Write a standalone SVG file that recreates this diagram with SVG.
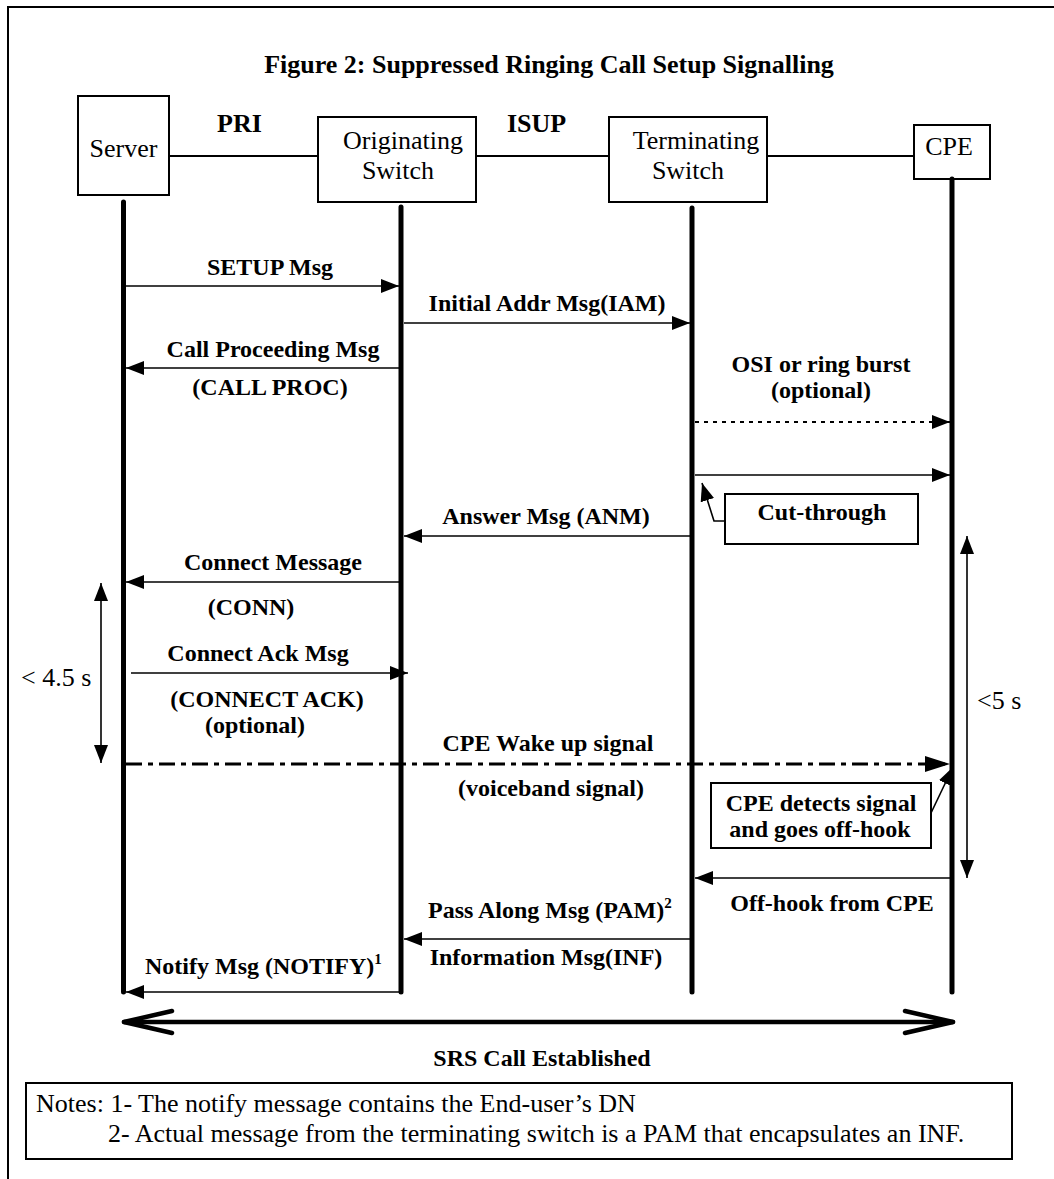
<svg xmlns="http://www.w3.org/2000/svg" width="1054" height="1179" viewBox="0 0 1054 1179">
<style>
  text { font-family: "Liberation Serif", "Times New Roman", serif; fill: #000; }
  .node { fill: #fff; stroke: #000; stroke-width: 2; }
  .reg { font-size: 26px; }
  .b26 { font-size: 26px; font-weight: bold; }
  .lbl { font-size: 24px; font-weight: bold; text-anchor: middle; }
  .lbls { font-size: 24px; font-weight: bold; }
  .sup { font-size: 15px; font-weight: bold; }
  .mid { text-anchor: middle; }
  .life { stroke: #000; stroke-width: 5; stroke-linecap: round; fill: none; }
  .link { stroke: #000; stroke-width: 2; fill: none; }
  .msg { stroke: #000; stroke-width: 1.6; fill: none; marker-end: url(#ah); }
  .dotted { stroke: #000; stroke-width: 2; fill: none; stroke-dasharray: 4 5; marker-end: url(#ah); }
  .dashdot { stroke: #000; stroke-width: 3; fill: none; stroke-dasharray: 16 6 5 6; marker-end: url(#ahb); }
  .timing { stroke: #000; stroke-width: 1.6; fill: none; marker-start: url(#ah); marker-end: url(#ah); }
  .srs { stroke: #000; stroke-width: 4.5; fill: none; stroke-linecap: round; stroke-linejoin: round; }
</style>
<defs>
  <marker id="ah" markerUnits="userSpaceOnUse" markerWidth="18" markerHeight="14" viewBox="0 0 18 14" refX="18" refY="7" orient="auto-start-reverse">
    <path d="M0,0 L18,7 L0,14 z" fill="#000"/>
  </marker>
  <marker id="ahb" markerUnits="userSpaceOnUse" markerWidth="25" markerHeight="16" viewBox="0 0 25 16" refX="25" refY="8" orient="auto">
    <path d="M0,0 L25,8 L0,16 z" fill="#000"/>
  </marker>
  <clipPath id="srsclip"><rect x="0" y="1030" width="1054" height="36"/></clipPath>
</defs>

<rect x="0" y="0" width="1054" height="1179" fill="#fff"/>

<!-- page frame (clipped at right and bottom) -->
<path d="M8,1179 V7 H1054" fill="none" stroke="#000" stroke-width="2"/>

<text class="b26 mid" x="549" y="73">Figure 2: Suppressed Ringing Call Setup Signalling</text>

<g id="links">
  <line class="link" x1="169" y1="156" x2="318" y2="156"/>
  <line class="link" x1="476" y1="156" x2="609" y2="156"/>
  <line class="link" x1="767" y1="156" x2="914" y2="156"/>
  <text class="b26" x="217" y="132">PRI</text>
  <text class="b26" x="507" y="132">ISUP</text>
</g>

<g id="node-server">
  <rect class="node" x="78" y="96" width="91" height="99"/>
  <text class="reg mid" x="123.5" y="157">Server</text>
</g>
<g id="node-originating">
  <rect class="node" x="318" y="117" width="158" height="85"/>
  <text class="reg mid" x="403" y="149">Originating</text>
  <text class="reg mid" x="398" y="179">Switch</text>
</g>
<g id="node-terminating">
  <rect class="node" x="609" y="117" width="158" height="85"/>
  <text class="reg mid" x="696" y="149">Terminating</text>
  <text class="reg mid" x="688" y="179">Switch</text>
</g>
<g id="node-cpe">
  <rect class="node" x="914" y="125" width="76" height="54"/>
  <text class="reg mid" x="949" y="155">CPE</text>
</g>

<g id="lifelines">
  <line class="life" x1="123.5" y1="202" x2="123.5" y2="992"/>
  <line class="life" x1="401" y1="207" x2="401" y2="992"/>
  <line class="life" x1="692" y1="208" x2="692" y2="992"/>
  <line class="life" x1="952" y1="179" x2="952" y2="992"/>
</g>

<g id="connectors">
  <line class="msg" x1="126" y1="286" x2="399" y2="286"/>
  <line class="msg" x1="404" y1="323" x2="690" y2="323"/>
  <line class="msg" x1="399" y1="368" x2="126" y2="368"/>
  <line class="dotted" x1="695" y1="422" x2="950" y2="422"/>
  <line class="msg" x1="695" y1="475" x2="950" y2="475"/>
  <path class="msg" d="M725,521 L714,521 L702,483"/>
  <line class="msg" x1="690" y1="536" x2="404" y2="536"/>
  <line class="msg" x1="399" y1="582" x2="126" y2="582"/>
  <line class="msg" x1="131" y1="673" x2="408" y2="673"/>
  <line class="timing" x1="101" y1="583" x2="101" y2="763"/>
  <line class="dashdot" x1="126" y1="764" x2="950" y2="764"/>
  <path class="msg" d="M931,813 L953,767"/>
  <line class="timing" x1="967" y1="536" x2="967" y2="878"/>
  <line class="msg" x1="950" y1="878" x2="695" y2="878"/>
  <line class="msg" x1="690" y1="939" x2="404" y2="939"/>
  <line class="msg" x1="399" y1="992" x2="126" y2="992"/>
  <path class="srs" d="M124,1022 H953"/>
  <path class="srs" d="M172,1011 L124,1022 L172,1033"/>
  <path class="srs" d="M905,1011 L953,1022 L905,1033"/>
</g>

<g id="labels">
  <text class="lbl" x="270" y="275">SETUP Msg</text>
  <text class="lbl" x="547" y="311">Initial Addr Msg(IAM)</text>
  <text class="lbl" x="273" y="357">Call Proceeding Msg</text>
  <text class="lbl" x="270" y="395">(CALL PROC)</text>
  <text class="lbl" x="821" y="372">OSI or ring burst</text>
  <text class="lbl" x="821" y="398">(optional)</text>
  <text class="lbl" x="546" y="524">Answer Msg (ANM)</text>
  <text class="lbl" x="273" y="570">Connect Message</text>
  <text class="lbl" x="251" y="615">(CONN)</text>
  <text class="lbl" x="258" y="661">Connect Ack Msg</text>
  <text class="lbl" x="267" y="707">(CONNECT ACK)</text>
  <text class="lbl" x="255" y="733">(optional)</text>
  <text class="reg" x="21" y="686">&lt; 4.5 s</text>
  <text class="lbl" x="548" y="751">CPE Wake up signal</text>
  <text class="lbl" x="551" y="796">(voiceband signal)</text>
  <text class="reg" x="977" y="709">&lt;5 s</text>
  <text class="lbl" x="832" y="911">Off-hook from CPE</text>
  <text class="lbls" x="428" y="918">Pass Along Msg (PAM)<tspan class="sup" dy="-10">2</tspan></text>
  <text class="lbl" x="546" y="965">Information Msg(INF)</text>
  <text class="lbls" x="145" y="974">Notify Msg (NOTIFY)<tspan class="sup" dy="-10">1</tspan></text>
  <text class="lbl" x="542" y="1066" clip-path="url(#srsclip)">SRS Call Established</text>
</g>

<g id="note-cut-through">
  <rect class="node" x="725" y="494" width="193" height="50"/>
  <text class="lbl" x="822" y="520">Cut-through</text>
</g>

<g id="note-cpe-detects">
  <rect class="node" x="711" y="783" width="220" height="65"/>
  <text class="lbl" x="821" y="811">CPE detects signal</text>
  <text class="lbl" x="820" y="837">and goes off-hook</text>
</g>

<g id="notes">
  <rect class="node" x="26" y="1083" width="986" height="76"/>
  <text class="reg" x="36" y="1112">Notes: 1- The notify message contains the End-user’s DN</text>
  <text class="reg" x="108" y="1142">2- Actual message from the terminating switch is a PAM that encapsulates an INF.</text>
</g>
</svg>
